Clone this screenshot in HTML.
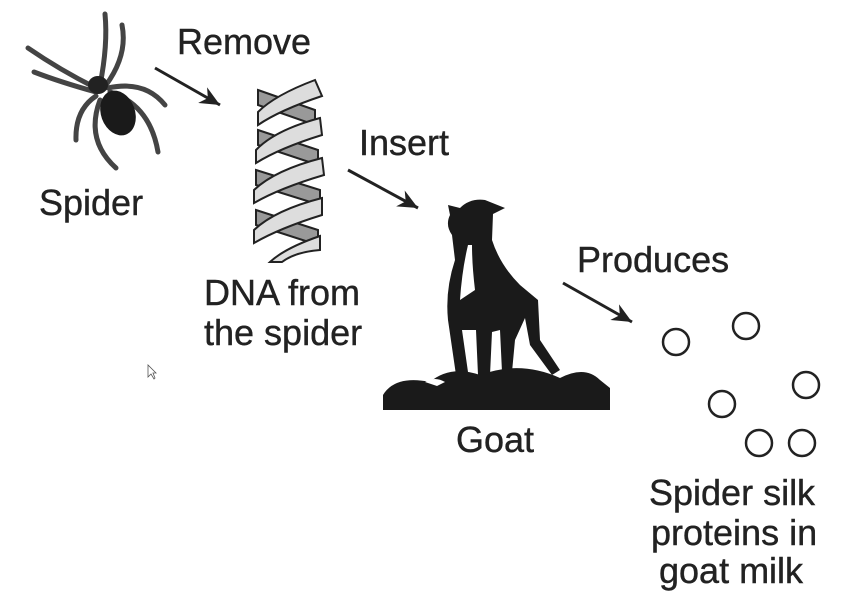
<!DOCTYPE html>
<html><head><style>
body{margin:0;background:#fff;width:856px;height:604px;overflow:hidden}
svg{display:block}
text{font-family:"Liberation Sans",Arial,sans-serif;font-size:36px;fill:#222;stroke:#222;stroke-width:0.4}
</style></head><body>
<svg width="856" height="604" viewBox="0 0 856 604">
<defs><marker id="b" markerWidth="22" markerHeight="18" refX="20" refY="9" orient="auto" markerUnits="userSpaceOnUse"><path d="M0,0 L20,9 L0,18 L6,9 z" fill="#222"/></marker></defs>
<text x="177" y="54">Remove</text>
<text x="39" y="215">Spider</text>
<text x="359" y="155">Insert</text>
<text x="204" y="305">DNA from</text>
<text x="204" y="345">the spider</text>
<text x="456" y="452">Goat</text>
<text x="577" y="272">Produces</text>
<text x="649" y="505">Spider silk</text>
<text x="651" y="545">proteins in</text>
<text x="659" y="583">goat milk</text>
<g stroke="#222" stroke-width="3"><line x1="155" y1="68" x2="220" y2="105" marker-end="url(#b)"/>
<line x1="348" y1="170" x2="418" y2="208" marker-end="url(#b)"/>
<line x1="563" y1="283" x2="632" y2="322" marker-end="url(#b)"/></g>
<g fill="none" stroke="#222" stroke-width="2.5">
<circle cx="676" cy="342" r="13"/><circle cx="746" cy="326" r="13"/><circle cx="806" cy="385" r="13"/><circle cx="722" cy="404" r="13"/><circle cx="759" cy="443" r="13"/><circle cx="802" cy="443" r="13"/></g>
<!-- spider -->
<g stroke="#444" stroke-width="5" fill="none" stroke-linecap="round">
<path d="M100,85 Q108,45 105,14"/><path d="M106,85 Q128,55 122,25"/>
<path d="M96,88 Q60,70 28,48"/><path d="M96,92 Q60,82 34,72"/>
<path d="M108,88 Q145,80 165,105"/><path d="M110,92 Q150,105 158,152"/>
<path d="M96,96 Q75,110 76,140"/><path d="M100,100 Q85,140 116,168"/></g>
<ellipse cx="98" cy="85" rx="10" ry="9" fill="#222"/>
<ellipse cx="118" cy="113" rx="17" ry="23" fill="#1a1a1a" transform="rotate(-20 118 113)"/>
<!-- DNA -->
<g stroke="#222" stroke-width="2">
<g fill="#999"><path d="M258,90 L315,110 L315,125 L258,105z"/><path d="M258,130 L318,150 L318,165 L258,145z"/><path d="M256,170 L320,190 L320,205 L256,185z"/><path d="M256,210 L318,230 L318,245 L256,225z"/></g>
<g fill="#ddd"><path d="M315,80 Q275,95 258,112 L258,125 Q280,110 322,96z"/><path d="M320,118 Q275,130 256,150 L256,163 Q280,148 322,135z"/><path d="M322,158 Q275,170 254,190 L254,203 Q280,188 324,175z"/><path d="M322,198 Q275,210 254,230 L254,243 Q280,228 322,215z"/><path d="M320,236 Q285,248 270,262 L282,262 Q295,252 320,250z"/></g></g>
<!-- goat -->
<g fill="#1a1a1a">
<path d="M383,410 L383,395 Q395,375 430,382 Q450,365 480,375 Q520,360 560,378 Q585,365 600,380 L610,388 L610,410z"/>
<path d="M448,205 L460,208 Q470,198 485,200 L505,208 L493,214 L492,240 Q500,265 520,285 L538,300 L540,340 L560,370 L552,375 L530,345 L525,318 L515,340 L512,372 L502,372 L500,330 L492,332 L490,375 L478,375 L476,330 L462,330 L468,372 L456,375 L448,320 Q445,290 455,260 L452,235 Q445,225 450,215z"/>
</g>
<path d="M468,245 Q462,270 460,300 L475,290 Q472,265 472,245z" fill="#fff"/>
<path d="M425,382 Q435,376 445,382 L437,386z" fill="#fff"/>
<path d="M148,365 L148,377 L151,374 L154,379 L155,378 L153,373 L156,373z" fill="#fff" stroke="#555" stroke-width="0.8"/>
</svg>
</body></html>
